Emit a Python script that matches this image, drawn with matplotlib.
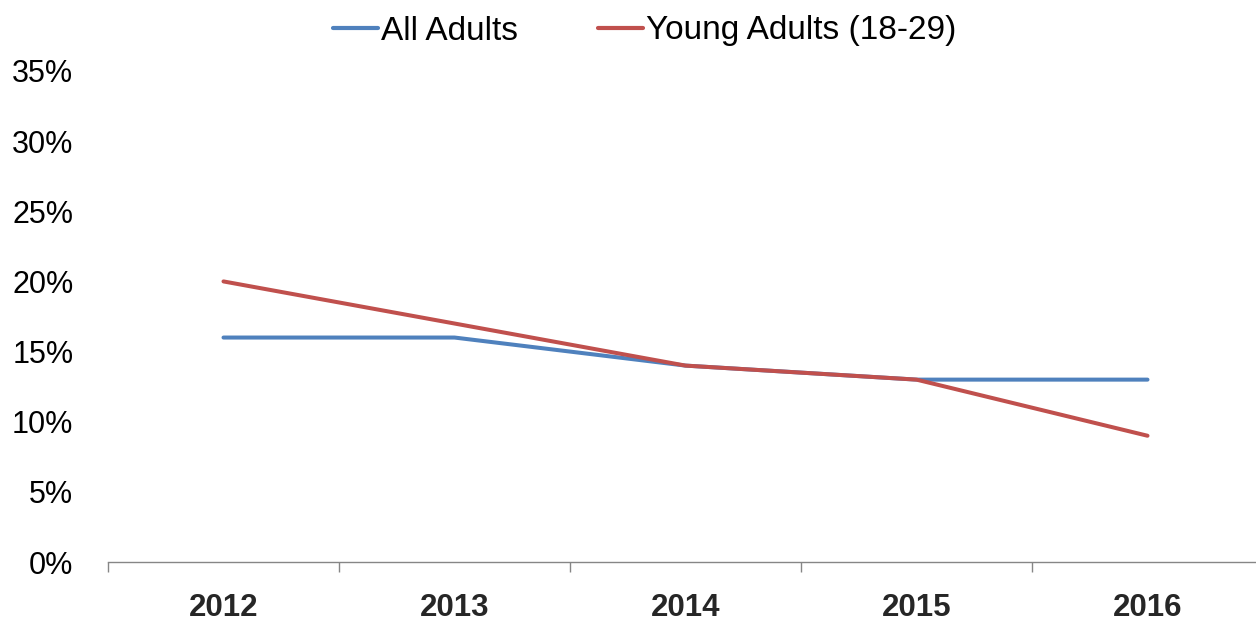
import matplotlib
matplotlib.use("Agg")
import matplotlib.pyplot as plt
from matplotlib.ticker import FuncFormatter, FixedLocator

years = ["2012", "2013", "2014", "2015", "2016"]
all_adults = [0.16, 0.16, 0.14, 0.13, 0.13]
young_adults = [0.20, 0.17, 0.14, 0.13, 0.09]
y_ticks = [0, 0.05, 0.10, 0.15, 0.20, 0.25, 0.30, 0.35]

plt.rcParams['font.family'] = ['Liberation Sans', 'DejaVu Sans']

W, H = 1256, 622
fig = plt.figure(figsize=(W / 100, H / 100), dpi=100)
ax = fig.add_axes([108 / W, 60 / H, 1155 / W, 491 / H])

x = list(range(len(years)))
ax.plot(x, all_adults, color="#4F81BD", lw=2.9, label="All Adults", solid_capstyle="round")
ax.plot(x, young_adults, color="#C0504D", lw=2.9, label="Young Adults (18-29)", solid_capstyle="round")

ax.set_xlim(-0.5, len(years) - 0.5)
ax.set_ylim(0, 0.35)
ax.set_yticks(y_ticks)
ax.yaxis.set_major_formatter(FuncFormatter(lambda v, p: f"{round(v * 100):d}%"))
ax.tick_params(axis="y", length=0, pad=25, labelsize=22, labelcolor="black")

ax.set_xticks(x)
ax.set_xticklabels(years, fontweight="bold", fontsize=22.5, color="#262626")
ax.tick_params(axis="x", which="major", length=0, pad=22)
ax.xaxis.set_minor_locator(FixedLocator([i - 0.5 for i in range(len(years) + 1)]))
ax.tick_params(axis="x", which="minor", length=7.5, width=1, color="#868686", direction="out")

for s in ["left", "right", "top"]:
    ax.spines[s].set_visible(False)
ax.spines["bottom"].set_color("#868686")
ax.spines["bottom"].set_linewidth(1.0)

leg = ax.legend(ncol=2, loc="center", bbox_to_anchor=((645 - 108) / 1155, 1 + (71 - 31) / 491),
                frameon=False, fontsize=24, handlelength=1.35, handletextpad=0.09,
                columnspacing=2.4, borderaxespad=0, borderpad=0)
for t in leg.get_texts():
    t.set_color("black")
for h in leg.get_lines():
    h.set_linewidth(3.0)
    h.set_solid_capstyle("round")

fig.savefig("out.png", dpi=100)
